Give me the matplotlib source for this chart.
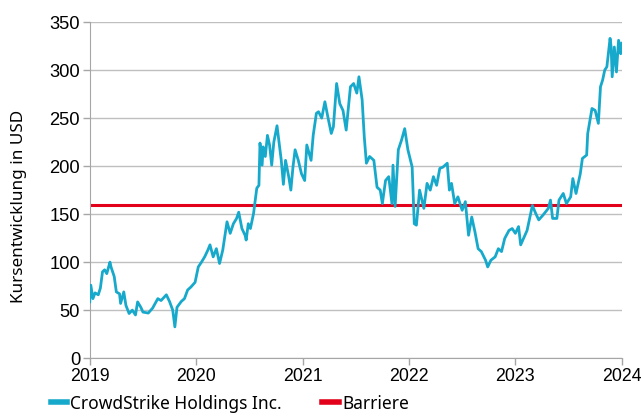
import numpy as np
import matplotlib.pyplot as plt

# decimal years and closing prices
years = [2019.00, 2019.01, 2019.03, 2019.05, 2019.08, 2019.10, 2019.12, 2019.14, 2019.16, 2019.19,
         2019.20, 2019.23, 2019.25, 2019.28, 2019.29, 2019.32, 2019.34, 2019.37, 2019.40, 2019.43,
         2019.45, 2019.48, 2019.50, 2019.55, 2019.59, 2019.64, 2019.67, 2019.72, 2019.75, 2019.78,
         2019.80, 2019.82, 2019.86, 2019.89, 2019.92, 2019.95, 2019.99, 2020.02, 2020.05, 2020.08,
         2020.11, 2020.13, 2020.16, 2020.19, 2020.22, 2020.25, 2020.29, 2020.32, 2020.35, 2020.38,
         2020.40, 2020.43, 2020.46, 2020.47, 2020.49, 2020.51, 2020.54, 2020.55, 2020.57, 2020.59,
         2020.60, 2020.62, 2020.63, 2020.65, 2020.67, 2020.69, 2020.71, 2020.73, 2020.76, 2020.78,
         2020.80, 2020.82, 2020.84, 2020.87, 2020.89, 2020.91, 2020.93, 2020.96, 2020.99, 2021.02,
         2021.04, 2021.08, 2021.10, 2021.13, 2021.15, 2021.18, 2021.21, 2021.24, 2021.27, 2021.29,
         2021.32, 2021.35, 2021.38, 2021.41, 2021.45, 2021.48, 2021.51, 2021.53, 2021.56, 2021.58,
         2021.60, 2021.63, 2021.67, 2021.70, 2021.73, 2021.75, 2021.78, 2021.81, 2021.84, 2021.85,
         2021.87, 2021.90, 2021.93, 2021.96, 2021.99, 2022.03, 2022.05, 2022.07, 2022.10, 2022.14,
         2022.17, 2022.20, 2022.23, 2022.26, 2022.29, 2022.32, 2022.36, 2022.38, 2022.40, 2022.43,
         2022.46, 2022.50, 2022.53, 2022.56, 2022.59, 2022.62, 2022.65, 2022.68, 2022.72, 2022.74,
         2022.77, 2022.81, 2022.84, 2022.87, 2022.90, 2022.94, 2022.97, 2023.00, 2023.03, 2023.05,
         2023.11, 2023.16, 2023.19, 2023.22, 2023.26, 2023.31, 2023.33, 2023.35, 2023.39, 2023.41,
         2023.45, 2023.48, 2023.52, 2023.54, 2023.57, 2023.61, 2023.63, 2023.67, 2023.68, 2023.72,
         2023.75, 2023.78, 2023.80, 2023.82, 2023.84, 2023.86, 2023.89, 2023.90, 2023.91, 2023.93,
         2023.95, 2023.97, 2023.99, 2024.00]
prices = [58.6, 76, 62, 68, 66, 73, 90, 92, 88, 100,
          95, 85, 69, 67, 57, 69, 55, 46.5, 50, 45,
          58.6, 53, 48, 47, 52, 62, 60, 66, 59, 50,
          32.6, 53, 59, 62, 71, 74, 79, 95, 100, 105.5,
          112.5, 118, 105.5, 114, 98.6, 112.5, 142, 130, 140, 145.5,
          152, 135, 128, 123, 140, 135, 151, 160, 177, 180,
          224, 201, 220, 210, 232, 222, 201, 225, 242, 223.6,
          206, 181, 206, 189, 175, 199, 217, 206, 192, 185,
          222, 206, 232, 255, 256.6, 250, 267, 250, 234, 241,
          286, 265, 258, 237.5, 282.6, 286, 276, 293, 269, 230.5,
          203, 210, 206, 178, 175, 161, 185, 189, 161, 201,
          158, 217, 227, 239, 217, 199, 140, 138.5, 175, 156,
          182, 175, 189, 180, 197.6, 199, 203, 175, 182, 161,
          168, 154, 163, 128, 147, 131.6, 114, 111, 102, 95,
          102, 105.5, 114, 111, 124.7, 133, 135, 130, 137, 118,
          133, 159, 151, 144, 149, 156, 164.6, 145.5, 145.5, 164.6,
          171.5, 161, 168, 187, 171.5, 192, 208, 211.5, 234, 260,
          258, 244.5, 282.6, 289.6, 300, 303.4, 333, 324, 293, 324,
          298, 331, 317, 328]
barrier = 160
x_ticks = [2019, 2020, 2021, 2022, 2023, 2024]
y_ticks = [0, 50, 100, 150, 200, 250, 300, 350]

fig = plt.figure(figsize=(6.41, 4.16), dpi=100)
ax = fig.add_axes([0.140, 0.139, 0.830, 0.808])

ax.plot(years, prices, color='#17A9CB', lw=2.0, label='CrowdStrike Holdings Inc.', zorder=3)
ax.axhline(barrier, color='#E2001A', lw=2.2, label='Barriere', zorder=2)

ax.set_xlim(2019, 2024)
ax.set_ylim(0, 350)
ax.set_xticks(x_ticks)
ax.set_yticks(y_ticks)
ax.set_xticklabels([str(y) for y in x_ticks], family='Liberation Sans', fontsize=12.8)
ax.set_yticklabels([str(y) for y in y_ticks], family='Liberation Sans', fontsize=13.2)
ax.grid(axis='y', color='#BFBFBF', lw=1.0, zorder=0)
for s in ['top', 'right']:
    ax.spines[s].set_visible(False)
for s in ['left', 'bottom']:
    ax.spines[s].set_color('#A6A6A6')
ax.tick_params(colors='#A6A6A6', labelcolor='black', length=5, width=1, pad=2)

ax.set_ylabel('Kursentwicklung in USD', family='Noto Sans', fontsize=12.3)
ax.yaxis.set_label_coords(-0.117, 0.45)

fig.legend(loc='center left', bbox_to_anchor=(0.068, 0.03), ncol=2, frameon=False,
           prop={'family': 'Noto Sans', 'size': 12.5}, handlelength=0.95, handletextpad=0.2,
           columnspacing=2.3, borderaxespad=0)
for h in fig.legends[0].get_lines():
    h.set_linewidth(4)

fig.savefig('out.png', dpi=100)
